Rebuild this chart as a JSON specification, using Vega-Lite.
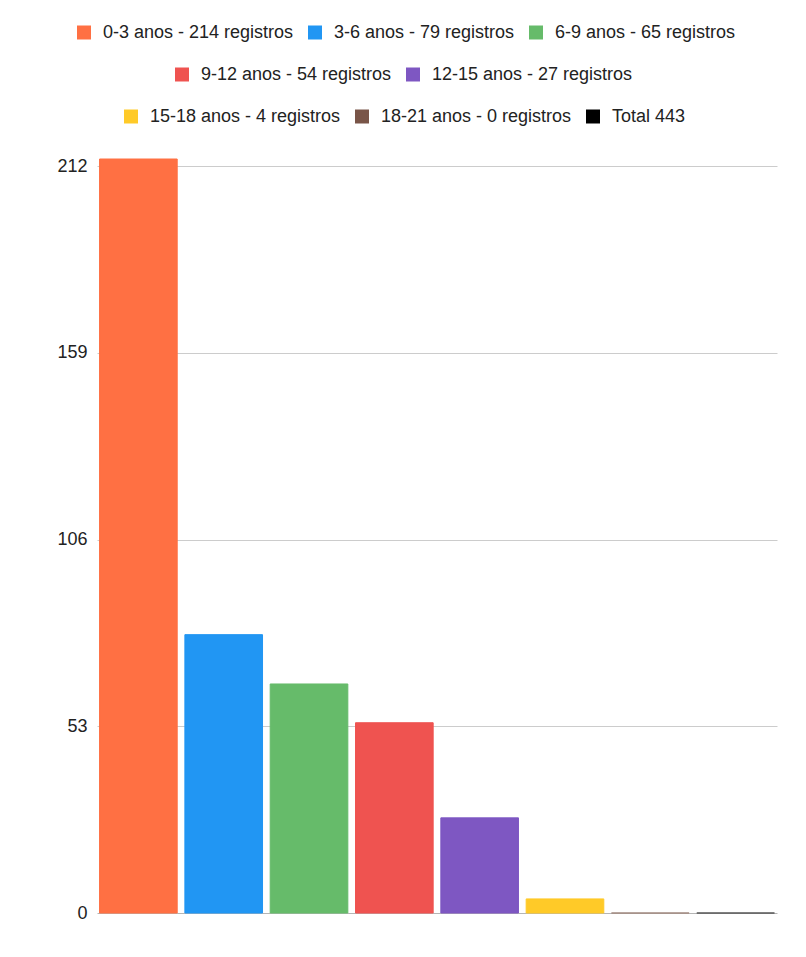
{
  "$schema": "https://vega.github.io/schema/vega-lite/v6.json",
  "width": 680,
  "height": 754,
  "padding": {"left": 10, "top": 23, "right": 5, "bottom": 5},
  "background": "white",
  "data": {"values": [
    {"label": "0-3 anos - 214 registros", "value": 214, "group": 1},
    {"label": "3-6 anos - 79 registros", "value": 79, "group": 1},
    {"label": "6-9 anos - 65 registros", "value": 65, "group": 1},
    {"label": "9-12 anos - 54 registros", "value": 54, "group": 2},
    {"label": "12-15 anos - 27 registros", "value": 27, "group": 2},
    {"label": "15-18 anos - 4 registros", "value": 4, "group": 3},
    {"label": "18-21 anos - 0 registros", "value": 0, "group": 3},
    {"label": "Total 443", "value": 0, "group": 3}
  ]},
  "encoding": {
    "x": {
      "field": "label", "type": "nominal", "sort": null, "axis": null,
      "scale": {
        "domain": ["0-3 anos - 214 registros", "3-6 anos - 79 registros", "6-9 anos - 65 registros", "9-12 anos - 54 registros", "12-15 anos - 27 registros", "15-18 anos - 4 registros", "18-21 anos - 0 registros", "Total 443"],
        "paddingInner": 0.09, "paddingOuter": 0.03
      }
    },
    "y": {
      "field": "value", "type": "quantitative",
      "scale": {"domain": [0, 214], "nice": false},
      "axis": {
        "title": null, "values": [0, 53, 106, 159, 212], "domain": false, "ticks": false,
        "labelFontSize": 18, "labelColor": "#222222", "labelPadding": 10,
        "labelFont": "Liberation Sans, Arial, sans-serif",
        "minExtent": 87, "maxExtent": 87,
        "gridColor": {"condition": {"test": "datum.value === 0", "value": "#b5b5b5"}, "value": "#cccccc"},
        "gridWidth": 1
      }
    }
  },
  "layer": [
    {
      "transform": [{"filter": "datum.group == 1"}],
      "mark": {"type": "bar", "strokeWidth": 1},
      "encoding": {
        "color": {"field": "label", "type": "nominal", "sort": null,
          "scale": {"domain": ["0-3 anos - 214 registros", "3-6 anos - 79 registros", "6-9 anos - 65 registros"], "range": ["#FF7043", "#2196F3", "#66BB6A"]},
          "legend": {"title": null, "orient": "none", "direction": "horizontal", "legendX": -22, "legendY": -135.5}},
        "stroke": {"field": "label", "type": "nominal", "sort": null,
          "scale": {"domain": ["0-3 anos - 214 registros", "3-6 anos - 79 registros", "6-9 anos - 65 registros"], "range": ["#FF7043", "#2196F3", "#66BB6A"]},
          "legend": null}
      }
    },
    {
      "transform": [{"filter": "datum.group == 2"}],
      "mark": {"type": "bar", "strokeWidth": 1},
      "encoding": {
        "color": {"field": "label", "type": "nominal", "sort": null,
          "scale": {"domain": ["9-12 anos - 54 registros", "12-15 anos - 27 registros"], "range": ["#EF5350", "#7E57C2"]},
          "legend": {"title": null, "orient": "none", "direction": "horizontal", "legendX": 76, "legendY": -93.5}},
        "stroke": {"field": "label", "type": "nominal", "sort": null,
          "scale": {"domain": ["9-12 anos - 54 registros", "12-15 anos - 27 registros"], "range": ["#EF5350", "#7E57C2"]},
          "legend": null}
      }
    },
    {
      "transform": [{"filter": "datum.group == 3"}],
      "mark": {"type": "bar", "strokeWidth": 1},
      "encoding": {
        "color": {"field": "label", "type": "nominal", "sort": null,
          "scale": {"domain": ["15-18 anos - 4 registros", "18-21 anos - 0 registros", "Total 443"], "range": ["#FFCA28", "#795548", "#000000"]},
          "legend": {"title": null, "orient": "none", "direction": "horizontal", "legendX": 25, "legendY": -51.5}},
        "stroke": {"field": "label", "type": "nominal", "sort": null,
          "scale": {"domain": ["15-18 anos - 4 registros", "18-21 anos - 0 registros", "Total 443"], "range": ["#FFCA28", "#A1887F", "#555555"]},
          "legend": null}
      }
    }
  ],
  "resolve": {"scale": {"color": "independent", "stroke": "independent"}},
  "config": {
    "view": {"stroke": null},
    "legend": {
      "symbolType": "square",
      "symbolSize": 196,
      "symbolStrokeWidth": 0,
      "symbolOpacity": 1,
      "labelFontSize": 18,
      "labelFont": "Liberation Sans, Arial, sans-serif",
      "labelColor": "#222222",
      "labelOffset": 10,
      "labelLimit": 500,
      "columnPadding": 12,
      "padding": 0
    }
  }
}
